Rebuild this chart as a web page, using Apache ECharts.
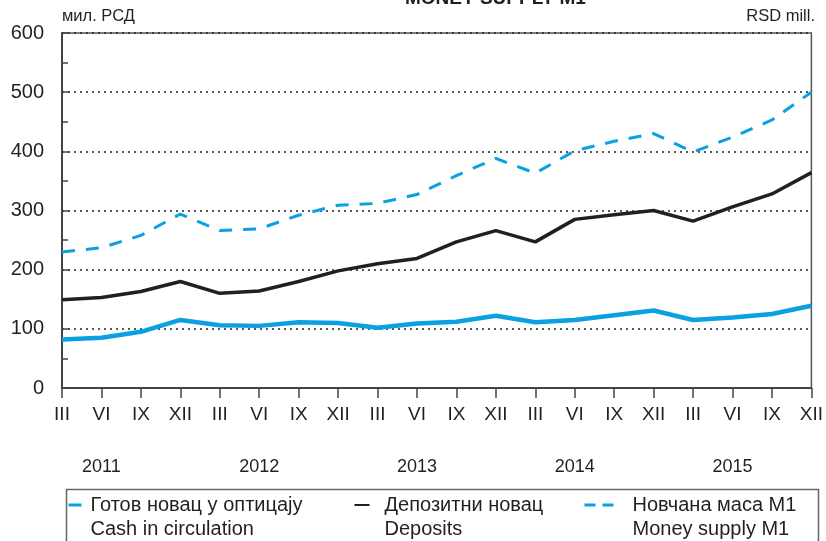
<!DOCTYPE html>
<html>
<head>
<meta charset="utf-8">
<script src="https://cdn.jsdelivr.net/npm/echarts@6/dist/echarts.min.js"></script>
<style>
  html, body { margin: 0; padding: 0; background: #fff; }
  #chart { width: 826px; height: 541px; }
</style>
</head>
<body>
<div id="chart"></div>
<script>
// quarters, March 2011 .. December 2015
const months = ['III', 'VI', 'IX', 'XII', 'III', 'VI', 'IX', 'XII', 'III', 'VI',
  'IX', 'XII', 'III', 'VI', 'IX', 'XII', 'III', 'VI', 'IX', 'XII'];
const years = ['', '2011', '', '', '', '2012', '', '', '', '2013',
  '', '', '', '2014', '', '', '', '2015', '', ''];

const cash = [82, 85, 95, 115, 106, 105, 111, 110, 102, 109,
  112, 122, 111, 115, 123, 131, 115, 119, 125, 139];
const deposits = [149, 153, 163, 180, 160, 164, 180, 198, 210, 219,
  247, 266, 247, 285, 293, 300, 282, 306, 328, 364];
const m1 = [230, 237, 258, 294, 266, 269, 292, 309, 312, 327,
  359, 388, 363, 401, 417, 430, 399, 424, 453, 500];

const namesSr = ['Готов новац у оптицају', 'Депозитни новац', 'Новчана маса М1'];
const namesEn = ['Cash in circulation', 'Deposits', 'Money supply M1'];
const yTicks = [0, 100, 200, 300, 400, 500, 600];

const BLUE = '#0aa0e2';
const DARK = '#231f20';
const FONT = '"Liberation Sans", Arial, sans-serif';

const chart = echarts.init(document.getElementById('chart'));

// legend is drawn by hand: two-line labels, icon next to the first line
function legendItem(x, textX, text1, text2, icon) {
  return {
    type: 'group',
    left: x,
    top: 495,
    children: [
      icon,
      { type: 'text', x: textX, y: 0, style: { text: text1, font: '20px ' + FONT, fill: DARK } },
      { type: 'text', x: textX, y: 24, style: { text: text2, font: '20px ' + FONT, fill: DARK } },
    ],
  };
}

chart.setOption({
  backgroundColor: '#fff',
  animation: false,
  title: {
    text: 'MONEY SUPPLY M1',
    left: 400,
    top: -16,
    textStyle: { fontFamily: FONT, fontSize: 19, fontWeight: 'bold', color: DARK },
  },
  grid: {
    left: 62,
    right: 12,
    top: 33,
    bottom: 153,
    show: true,
    borderColor: '#555',
    borderWidth: 1.5,
  },
  xAxis: [
    {
      type: 'category',
      data: months,
      boundaryGap: false,
      axisLine: { lineStyle: { color: '#444', width: 2 } },
      axisTick: { show: true, inside: false, length: 10, lineStyle: { color: '#444', width: 1.5 } },
      axisLabel: { color: DARK, fontFamily: FONT, fontSize: 19, margin: 17 },
      splitLine: { show: false },
    },
    {
      type: 'category',
      data: years,
      position: 'bottom',
      boundaryGap: false,
      axisLine: { show: false },
      axisTick: { show: false },
      axisLabel: { color: DARK, fontFamily: FONT, fontSize: 18, margin: 70, interval: 0 },
    },
  ],
  yAxis: {
    type: 'value',
    min: yTicks[0],
    max: yTicks[yTicks.length - 1],
    interval: 100,
    axisLine: { show: true, lineStyle: { color: '#444', width: 2 } },
    axisTick: { show: true, inside: true, length: 8, lineStyle: { color: '#444', width: 1.5 } },
    minorTick: { show: true, splitNumber: 2, length: 6, lineStyle: { color: '#444', width: 1.5 } },
    axisLabel: { color: DARK, fontFamily: FONT, fontSize: 20, margin: 18 },
    splitLine: {
      show: true,
      lineStyle: { color: '#222', width: 1.5, type: [2, 4] },
    },
  },
  graphic: [
    { type: 'text', left: 62, top: 8, style: { text: 'мил. РСД', font: '16.5px ' + FONT, fill: DARK } },
    { type: 'text', right: 11, top: 8, style: { text: 'RSD mill.', font: '16.5px ' + FONT, fill: DARK } },
    {
      type: 'rect',
      left: 64,
      top: 487,
      shape: { width: 752, height: 80 },
      style: { fill: 'none', stroke: '#666', lineWidth: 1.5 },
    },
    legendItem(66, 22, namesSr[0], namesEn[0],
      { type: 'line', shape: { x1: 0, y1: 10, x2: 13, y2: 10 }, style: { stroke: BLUE, lineWidth: 3 } }),
    legendItem(352, 30, namesSr[1], namesEn[1],
      { type: 'line', shape: { x1: 0, y1: 10, x2: 15, y2: 10 }, style: { stroke: DARK, lineWidth: 2 } }),
    legendItem(582, 48, namesSr[2], namesEn[2],
      { type: 'line', shape: { x1: 0, y1: 10, x2: 29, y2: 10 }, style: { stroke: BLUE, lineWidth: 3, lineDash: [11, 7] } }),
  ],
  series: [
    {
      name: namesSr[0],
      type: 'line',
      data: cash,
      symbol: 'none',
      lineStyle: { color: BLUE, width: 4.5 },
      z: 3,
    },
    {
      name: namesSr[1],
      type: 'line',
      data: deposits,
      symbol: 'none',
      lineStyle: { color: DARK, width: 3.5 },
      z: 3,
    },
    {
      name: namesSr[2],
      type: 'line',
      data: m1,
      symbol: 'none',
      lineStyle: { color: BLUE, width: 3, type: [13, 11] },
      z: 3,
    },
  ],
});
</script>
</body>
</html>
